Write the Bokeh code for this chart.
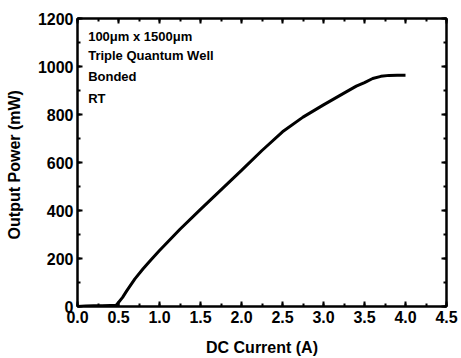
from bokeh.plotting import figure
from bokeh.models import (Range1d, LinearAxis, SingleIntervalTicker, NumeralTickFormatter,
                          Label, CustomLabelingPolicy)
from bokeh.embed import file_html
from bokeh.resources import INLINE

# ---- data ----
current = [0.0, 0.1, 0.2, 0.3, 0.4, 0.47, 0.55, 0.6, 0.7, 0.8, 0.9, 1.0, 1.25, 1.5,
           1.75, 2.0, 2.25, 2.5, 2.75, 3.0, 3.25, 3.4, 3.5, 3.6, 3.7, 3.8, 3.9, 4.0]
power = [0, 2, 3, 3, 4, 4, 38, 65, 115, 157, 196, 233, 322, 405,
         486, 567, 650, 728, 789, 840, 889, 918, 933, 950, 959, 963, 964, 964]
annotation_lines = ["100\u03bcm x 1500\u03bcm", "Triple Quantum Well", "Bonded", "RT"]
annotation_y = [1125, 1045, 960, 868]
x_label = "DC Current (A)"
y_label = "Output Power  (mW)"

FONT = "Liberation Sans"

p = figure(frame_width=369, frame_height=288, output_backend="svg", toolbar_location=None,
           x_range=Range1d(0, 4.5), y_range=Range1d(0, 1200),
           min_border_left=77, min_border_right=13, min_border_top=18, min_border_bottom=50)
p.background_fill_color = "white"
p.border_fill_color = "white"
p.grid.visible = False
p.outline_line_color = "black"
p.outline_line_width = 2

p.line(current, power, line_color="black", line_width=3)


def style_axis(ax, show_labels):
    ax.axis_line_width = 2
    ax.axis_line_color = "black"
    ax.major_tick_in = 5
    ax.major_tick_out = 0
    ax.minor_tick_in = 3
    ax.minor_tick_out = 0
    ax.major_tick_line_width = 2
    ax.minor_tick_line_width = 2
    ax.major_tick_line_color = "black"
    ax.minor_tick_line_color = "black"
    if show_labels:
        ax.major_label_text_font = FONT
        ax.major_label_text_font_style = "bold"
        ax.major_label_text_font_size = "16px"
        ax.major_label_text_color = "black"
        ax.axis_label_text_font = FONT
        ax.axis_label_text_font_style = "bold"
        ax.axis_label_text_font_size = "16px"
        ax.axis_label_text_color = "black"
    else:
        ax.major_label_policy = CustomLabelingPolicy(code="return new Set()")
        ax.major_label_standoff = 0


xax = p.xaxis[0]
xax.ticker = SingleIntervalTicker(interval=0.5, num_minor_ticks=2)
xax.formatter = NumeralTickFormatter(format="0.0")
xax.axis_label = x_label
style_axis(xax, True)
xax.major_label_standoff = 4
xax.axis_label_standoff = 13

yax = p.yaxis[0]
yax.ticker = SingleIntervalTicker(interval=200, num_minor_ticks=2)
yax.axis_label = y_label
style_axis(yax, True)
yax.major_label_standoff = 4
yax.axis_label_standoff = 12

top = LinearAxis(ticker=SingleIntervalTicker(interval=0.5, num_minor_ticks=2))
style_axis(top, False)
p.add_layout(top, "above")
right = LinearAxis(ticker=SingleIntervalTicker(interval=200, num_minor_ticks=2))
style_axis(right, False)
p.add_layout(right, "right")

for txt, yy in zip(annotation_lines, annotation_y):
    p.add_layout(Label(x=0.13, y=yy, text=txt, text_font=FONT, text_font_style="bold",
                       text_font_size="13px", text_baseline="middle", text_color="black"))

open("out.html", "w").write(file_html(p, INLINE))
